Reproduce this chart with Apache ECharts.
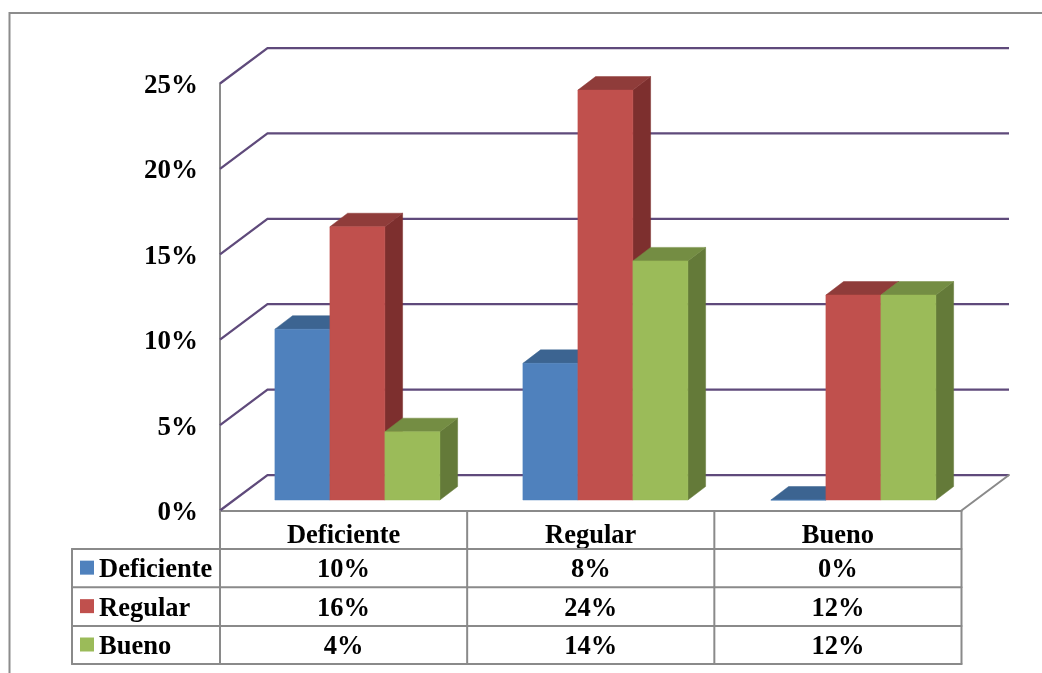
<!DOCTYPE html>
<html lang="es">
<head>
<meta charset="utf-8">
<title>Deficiente, Regular, Bueno</title>
<script src="https://cdn.jsdelivr.net/npm/echarts@6/dist/echarts.min.js"></script>
<style>
  html, body { margin: 0; padding: 0; background: #fff; }
  #chart { width: 1042px; height: 673px; }
</style>
</head>
<body>
<div id="chart"></div>
<script>
// Survey results by category
const categories = ['Deficiente', 'Regular', 'Bueno'];
const deficiente = [10, 8, 0];
const regular = [16, 24, 12];
const bueno = [4, 14, 12];
const yTicks = [0, 5, 10, 15, 20, 25];

const serif = '"Liberation Serif", "Times New Roman", serif';
const fontSize = 26.5;
const axisGray = '#8a8a8a';
const wallPurple = '#5f4a7b';

// Box depth of the chart walls and of the columns (oblique projection)
const wallDepth = { x: 47.5, y: -35.5 };
const barDepth = { x: 17.7, y: -13.5 };
const barWidth = 55;

const measures = [
  { name: 'Deficiente', values: deficiente, front: '#4f81bd', top: '#3c6491', side: '#375a84' },
  { name: 'Regular', values: regular, front: '#c0504d', top: '#8f3c3a', side: '#7d2f2e' },
  { name: 'Bueno', values: bueno, front: '#9bbb59', top: '#748d43', side: '#647a39' }
];

// Rows of the data table below the plot
const tableTop = 511;
const rowLines = [549, 587.3, 626, 664];
const tableLeft = 72;
const swatchLeft = 80;
const swatchSize = 14;
const nameLeft = 99;

const line = (x1, y1, x2, y2, stroke, width) => ({
  type: 'line',
  shape: { x1, y1, x2, y2 },
  style: { stroke, lineWidth: width, lineCap: 'round' }
});

const poly = (points, fill) => ({
  type: 'polygon',
  shape: { points },
  style: { fill, stroke: fill, lineWidth: 0.5 }
});

const cellText = (x, y, text, align) => ({
  type: 'text',
  style: {
    x,
    y,
    text,
    fontFamily: serif,
    fontWeight: 'bold',
    fontSize,
    fill: '#000',
    align,
    verticalAlign: 'middle'
  }
});

// Back-wall gridline for one tick: slanted run from the axis, then across the wall
function renderWall(params, api) {
  const tick = api.value(1);
  const cs = params.coordSys;
  const p = api.coord([0, tick]);
  const x0 = cs.x;
  const y0 = p[1];
  const bx = x0 + wallDepth.x;
  const by = y0 + wallDepth.y;
  const right = cs.x + cs.width + wallDepth.x;
  const children = [
    {
      type: 'polyline',
      shape: { points: [[x0, y0], [bx, by], [right, by]] },
      style: { fill: null, stroke: wallPurple, lineWidth: 2.25 }
    }
  ];
  if (tick === 0) {
    const fx = cs.x + cs.width;
    children.push(line(fx, y0, right, by, axisGray, 2));
  }
  return { type: 'group', children };
}

// One column as a box: front, top and side faces
function makeBarRenderer(measure, index) {
  return function (params, api) {
    const cat = api.value(0);
    const val = api.value(1);
    const center = api.coord([cat, 0])[0];
    const left = center + (index - 1.5) * barWidth;
    const right = left + barWidth;
    const base = api.coord([cat, 0])[1];
    const top = api.coord([cat, val])[1];
    const dx = barDepth.x;
    const dy = barDepth.y;
    return {
      type: 'group',
      children: [
        poly([[right, top], [right + dx, top + dy], [right + dx, base + dy], [right, base]], measure.side),
        poly([[left, top], [left + dx, top + dy], [right + dx, top + dy], [right, top]], measure.top),
        poly([[left, top], [right, top], [right, base], [left, base]], measure.front)
      ]
    };
  };
}

// Data table columns: cell borders, values and, in the first column, the key
function renderTable(params, api) {
  const cat = api.value(0);
  const cs = params.coordSys;
  const band = cs.width / categories.length;
  const cx = api.coord([cat, 0])[0];
  const left = cx - band / 2;
  const right = cx + band / 2;
  const children = [];
  const last = rowLines[rowLines.length - 1];
  children.push(line(right, tableTop, right, last, axisGray, 2));
  if (cat === 0) {
    children.push(line(left, tableTop, left, last, axisGray, 2));
    children.push(line(tableLeft, rowLines[0], tableLeft, last, axisGray, 2));
    rowLines.forEach(y => children.push(line(tableLeft, y, left, y, axisGray, 2)));
  }
  rowLines.forEach(y => children.push(line(left, y, right, y, axisGray, 2)));
  measures.forEach((m, r) => {
    const mid = (rowLines[r] + rowLines[r + 1]) / 2;
    children.push(cellText(cx, mid + 2.5, m.values[cat] + '%', 'center'));
    if (cat === 0) {
      children.push({
        type: 'rect',
        shape: {
          x: swatchLeft,
          y: mid - 0.5 - swatchSize / 2,
          width: swatchSize,
          height: swatchSize
        },
        style: { fill: m.front }
      });
      children.push(cellText(nameLeft, mid + 2.5, m.name, 'left'));
    }
  });
  return { type: 'group', children };
}

const option = {
  animation: false,
  backgroundColor: '#fff',
  grid: [
    // Front plane of the box: axis, category labels and table columns
    { left: 220, top: 83.5, width: 741.5, height: 427 },
    // Plane the columns stand on, set back from the front edge
    { left: 233.4, top: 73, width: 744, height: 427 }
  ],
  xAxis: [
    {
      gridIndex: 0,
      type: 'category',
      data: categories,
      axisLine: { lineStyle: { color: axisGray, width: 2 } },
      axisTick: { show: false },
      axisLabel: {
        margin: 12,
        fontFamily: serif,
        fontWeight: 'bold',
        fontSize,
        color: '#000'
      }
    },
    { gridIndex: 1, type: 'category', data: categories, show: false }
  ],
  yAxis: [
    {
      gridIndex: 0,
      type: 'value',
      min: yTicks[0],
      max: yTicks[yTicks.length - 1],
      interval: 5,
      axisLine: { show: true, lineStyle: { color: axisGray, width: 2 } },
      axisTick: { show: false },
      splitLine: { show: false },
      axisLabel: {
        margin: 22,
        verticalAlign: 'top',
        lineHeight: 5,
        formatter: '{value}%',
        fontFamily: serif,
        fontWeight: 'bold',
        fontSize: 27,
        color: '#000'
      }
    },
    { gridIndex: 1, type: 'value', min: 0, max: 25, interval: 5, show: false }
  ],
  graphic: [
    {
      // Outer frame running off the top right and bottom left
      type: 'polyline',
      silent: true,
      shape: { points: [[9.5, 673], [9.5, 13], [1042, 13]] },
      style: { fill: null, stroke: '#8c8c8c', lineWidth: 2 }
    }
  ],
  series: [
    {
      id: 'walls',
      type: 'custom',
      xAxisIndex: 0,
      yAxisIndex: 0,
      z: 1,
      silent: true,
      data: yTicks.map(t => [0, t]),
      encode: { x: 0, y: 1 },
      renderItem: renderWall
    },
    ...measures.map((m, i) => ({
      id: 'bars' + i,
      name: m.name,
      type: 'custom',
      xAxisIndex: 1,
      yAxisIndex: 1,
      z: 3 + i,
      silent: true,
      itemStyle: { color: m.front },
      data: m.values.map((v, c) => [c, v]),
      encode: { x: 0, y: 1 },
      renderItem: makeBarRenderer(m, i)
    })),
    {
      id: 'table',
      type: 'custom',
      xAxisIndex: 0,
      yAxisIndex: 0,
      z: 8,
      silent: true,
      data: categories.map((c, i) => [i, 0]),
      encode: { x: 0, y: 1 },
      renderItem: renderTable
    }
  ]
};

echarts.init(document.getElementById('chart'), null, { renderer: 'canvas' }).setOption(option);
</script>
</body>
</html>
